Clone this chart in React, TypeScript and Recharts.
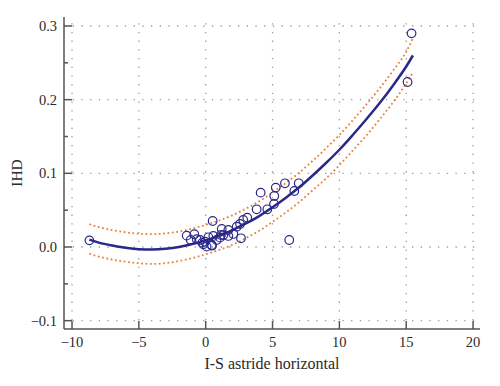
import { ComposedChart, Line, Scatter, XAxis, YAxis, ReferenceLine } from 'recharts';

// observed points
const PTS_X = [-8.7, -1.42, -0.85, -1.12, -0.67, -0.43, -0.05, -0.18, 0.07, 0.47, 0.2, 0.57, 0.52, 0.82, -0.25, 0.45,
  1.14, 1.2, 1.07, 1.32, 1.69, 1.69, 2.07, 2.32, 2.57, 2.81, 3.11, 2.64, 3.81, 4.61, 5.11, 4.11, 5.13, 5.24, 5.93, 6.63,
  6.96, 6.25, 15.1, 15.4];
const PTS_Y = [0.009, 0.0154, 0.0173, 0.0095, 0.0105, 0.0095, 0.0072, 0.0037, 0.0005, 0.0018, 0.0132, 0.015, 0.0353, 0.0095, 0.0059, 0.0027,
  0.0163, 0.0245, 0.0127, 0.0163, 0.0231, 0.015, 0.0177, 0.0276, 0.0313, 0.0367, 0.0398, 0.0118, 0.0512, 0.0512, 0.0584, 0.0738, 0.0693, 0.0806, 0.0865, 0.076,
  0.0865, 0.0095, 0.224, 0.29];

// fitted curve and its band
const FIT_X = [-8.7, -8, -7, -6, -5, -4, -3, -2, -1, 0, 1, 2, 3, 4, 5, 6, 7, 8, 9, 10, 11, 12, 13, 14, 15, 15.5];
const FIT_Y = [0.010, 0.006, 0.002, -0.001, -0.003, -0.0035, -0.0025, 0.000, 0.004, 0.009, 0.015, 0.023, 0.032, 0.042, 0.054, 0.067,
  0.081, 0.097, 0.114, 0.132, 0.152, 0.173, 0.195, 0.219, 0.245, 0.260];
const UPPER_Y = [0.031, 0.027, 0.023, 0.020, 0.018, 0.0175, 0.0185, 0.021, 0.025, 0.030, 0.036, 0.043, 0.052, 0.062, 0.074, 0.087,
  0.101, 0.117, 0.134, 0.152, 0.172, 0.193, 0.215, 0.239, 0.265, 0.283];
const LOWER_Y = [-0.009, -0.013, -0.017, -0.020, -0.022, -0.023, -0.022, -0.019, -0.015, -0.010, -0.004, 0.003, 0.012, 0.022, 0.034, 0.047,
  0.061, 0.077, 0.093, 0.111, 0.131, 0.151, 0.173, 0.196, 0.222, 0.237];

const X_TICKS = [-10, -5, 0, 5, 10, 15, 20];
const Y_MAJOR = [-0.1, 0, 0.1, 0.2, 0.3];
const Y_MINOR = [-0.05, 0.05, 0.15, 0.25];

const points = PTS_X.map((x, i) => ({ x, y: PTS_Y[i] }));
const fit = FIT_X.map((x, i) => ({ x, y: FIT_Y[i] }));
const upper = FIT_X.map((x, i) => ({ x, y: UPPER_Y[i] }));
const lower = FIT_X.map((x, i) => ({ x, y: LOWER_Y[i] }));

const FONT = '"Liberation Serif", "DejaVu Serif", serif';
const TEXT = '#2a2a2a';
const AXIS = '#555';
const NAVY = '#2a2888';
const ORANGE = '#e8803a';

const fmtNum = (v: number, digits: number) => (v < 0 ? '\u2212' : '') + Math.abs(v).toFixed(digits);

function XTick({ x, y, payload }: any) {
  return (
    <g>
      <line x1={x} x2={x} y1={y} y2={y - 8} stroke={AXIS} strokeWidth={1.5} />
      <text x={x} y={y + 18} textAnchor="middle" fill={TEXT} fontSize={14.5} fontFamily={FONT}>
        {fmtNum(payload.value, 0)}
      </text>
    </g>
  );
}

function YTick({ x, y, payload }: any) {
  const major = Y_MAJOR.some(v => Math.abs(v - payload.value) < 1e-9);
  return (
    <g>
      <line x1={x} x2={x + (major ? 8 : 4)} y1={y} y2={y} stroke={AXIS} strokeWidth={1.5} />
      {major && (
        <text x={x - 7} y={y} dy={5} textAnchor="end" fill={TEXT} fontSize={14.5} fontFamily={FONT}>
          {fmtNum(payload.value, 1)}
        </text>
      )}
    </g>
  );
}

function Ring({ cx, cy }: any) {
  return <circle cx={cx} cy={cy} r={4.3} fill="none" stroke={NAVY} strokeWidth={1.2} />;
}

export default function App() {
  const grid = { stroke: '#9a9a9a', strokeWidth: 1.3, strokeDasharray: '1.3 7.4' };
  return (
    <div style={{ position: 'absolute', left: 0, top: 0, width: 500, height: 386, background: '#fff' }}>
      <ComposedChart width={500} height={386} margin={{ top: 17, right: 20, bottom: 0, left: 0 }}>
        <XAxis
          type="number" dataKey="x" domain={[-10.6, 20.52]} ticks={X_TICKS} allowDataOverflow interval={0}
          height={57} tickSize={0} tickMargin={0} tickLine={false} tick={<XTick />}
          axisLine={{ stroke: AXIS, strokeWidth: 1.5 }}
          label={{ value: 'I-S astride horizontal', position: 'insideBottom', offset: 17, fill: TEXT, fontSize: 16, fontFamily: FONT }}
        />
        <YAxis
          type="number" dataKey="y" domain={[-0.1113, 0.3122]} ticks={[...Y_MAJOR, ...Y_MINOR]} allowDataOverflow interval={0}
          width={64} tickSize={0} tickMargin={0} tickLine={false} tick={<YTick />}
          axisLine={{ stroke: AXIS, strokeWidth: 1.5 }}
          label={({ viewBox }: any) => (
            <text
              x={viewBox.x + 22} y={viewBox.y + viewBox.height / 2}
              transform={`rotate(-90, ${viewBox.x + 22}, ${viewBox.y + viewBox.height / 2})`}
              textAnchor="middle" fill={TEXT} fontSize={15.5} fontFamily={FONT}
            >
              IHD
            </text>
          )}
        />
        {X_TICKS.map(v => <ReferenceLine key={'gx' + v} x={v} {...grid} />)}
        {Y_MAJOR.map(v => <ReferenceLine key={'gy' + v} y={v} {...grid} />)}
        <Scatter data={points} dataKey="y" shape={<Ring />} isAnimationActive={false} />
        <Line data={upper} dataKey="y" type="monotone" stroke={ORANGE} strokeWidth={1.8} strokeDasharray="1.8 2.6" dot={false} isAnimationActive={false} />
        <Line data={lower} dataKey="y" type="monotone" stroke={ORANGE} strokeWidth={1.8} strokeDasharray="1.8 2.6" dot={false} isAnimationActive={false} />
        <Line data={fit} dataKey="y" type="monotone" stroke={NAVY} strokeWidth={2.5} dot={false} isAnimationActive={false} />
      </ComposedChart>
    </div>
  );
}
